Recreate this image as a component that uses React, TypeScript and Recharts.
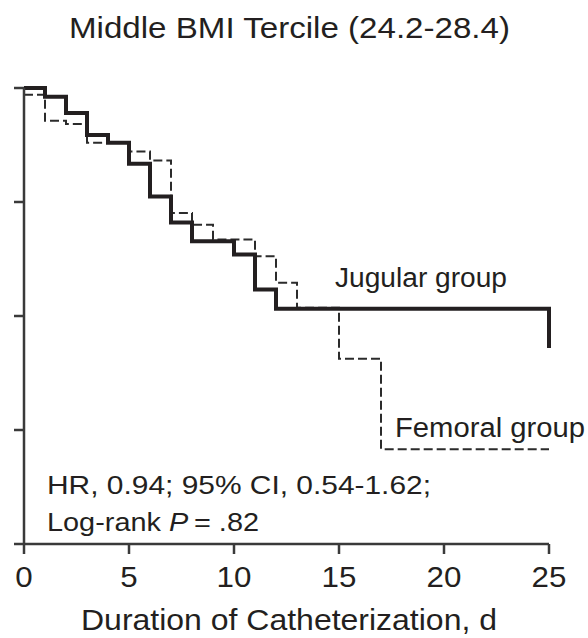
import { LineChart, Line, XAxis, YAxis } from "recharts"

// Kaplan-Meier steps (day, survival proportion)
const jugularDays = [0, 1, 2, 3, 4, 5, 6, 7, 8, 10, 11, 12, 25]
const jugularSurv = [1.0, 0.981, 0.945, 0.897, 0.88, 0.834, 0.762, 0.705, 0.664, 0.635, 0.558, 0.516, 0.43]

const femoralDays = [0, 1, 2, 3, 5, 6, 7, 8, 9, 11, 12, 13, 15, 17, 25]
const femoralSurv = [0.985, 0.928, 0.921, 0.88, 0.861, 0.841, 0.726, 0.7, 0.668, 0.631, 0.573, 0.518, 0.406, 0.208, 0.208]

const xTicks = [0, 5, 10, 15, 20, 25]
const yTicks = [0, 0.25, 0.5, 0.75, 1]

const title = "Middle BMI Tercile (24.2-28.4)"
const xLabel = "Duration of Catheterization, d"

const FONT = '"Liberation Sans", Arial, Helvetica, sans-serif'
const INK = "#231f20"
const AXIS = "#3a3a3a"

const jugular = jugularDays.map((d, i) => ({ day: d, surv: jugularSurv[i] }))
const femoral = femoralDays.map((d, i) => ({ day: d, surv: femoralSurv[i] }))

// source figure is a bit wider than Helvetica at its height, so stretch digits a little
function XTick(props: any) {
  const { x, payload } = props
  const s = String(payload.value)
  return (
    <text
      x={x}
      y={587}
      textAnchor="middle"
      fontSize={29}
      fontFamily={FONT}
      fill={INK}
      textLength={s.length * 0.556 * 29 * 1.08}
      lengthAdjust="spacingAndGlyphs"
    >
      {s}
    </text>
  )
}

// y axis has tick marks but no labels
function NoLabel() {
  return <g />
}

export default function App() {
  return (
    <div style={{ position: "absolute", left: 0, top: 0, width: 588, height: 638, background: "#fff" }}>
      <LineChart
        width={588}
        height={638}
        margin={{ top: 88, right: 39, left: 14, bottom: 0 }}
      >
        <XAxis
          dataKey="day"
          type="number"
          domain={[0, 25]}
          ticks={xTicks}
          tickSize={10}
          height={94}
          tick={<XTick />}
          axisLine={{ stroke: AXIS, strokeWidth: 2.5 }}
          tickLine={{ stroke: AXIS, strokeWidth: 2.5 }}
          allowDuplicatedCategory={false}
        />
        <YAxis
          type="number"
          domain={[0, 1]}
          ticks={yTicks}
          tick={<NoLabel />}
          tickSize={10}
          width={10}
          axisLine={{ stroke: AXIS, strokeWidth: 2.5 }}
          tickLine={{ stroke: AXIS, strokeWidth: 2.5 }}
        />
        <Line
          data={femoral}
          dataKey="surv"
          type="stepAfter"
          stroke="#2b2b2b"
          strokeWidth={2}
          strokeDasharray="9 4"
          dot={false}
          isAnimationActive={false}
        />
        <Line
          data={jugular}
          dataKey="surv"
          type="stepAfter"
          stroke={INK}
          strokeWidth={4}
          dot={false}
          isAnimationActive={false}
        />
      </LineChart>
      <svg
        width={588}
        height={638}
        style={{ position: "absolute", left: 0, top: 0, pointerEvents: "none" }}
        fontFamily={FONT}
        fill={INK}
      >
        <text x={69} y={38} fontSize={29} textLength={441} lengthAdjust="spacingAndGlyphs">
          {title}
        </text>
        <text x={81} y={630} fontSize={29} textLength={416} lengthAdjust="spacingAndGlyphs">
          {xLabel}
        </text>
        <text x={335} y={287} fontSize={27} textLength={172} lengthAdjust="spacingAndGlyphs">
          Jugular group
        </text>
        <text x={395} y={437} fontSize={27} textLength={190} lengthAdjust="spacingAndGlyphs">
          Femoral group
        </text>
        <text x={47} y={494} fontSize={26.5} textLength={384} lengthAdjust="spacingAndGlyphs">
          HR, 0.94; 95% CI, 0.54-1.62;
        </text>
        <text x={47} y={531} fontSize={26.5} textLength={212} lengthAdjust="spacingAndGlyphs">
          Log-rank <tspan fontStyle="italic">P</tspan>{"\u2009= .82"}
        </text>
      </svg>
    </div>
  )
}
